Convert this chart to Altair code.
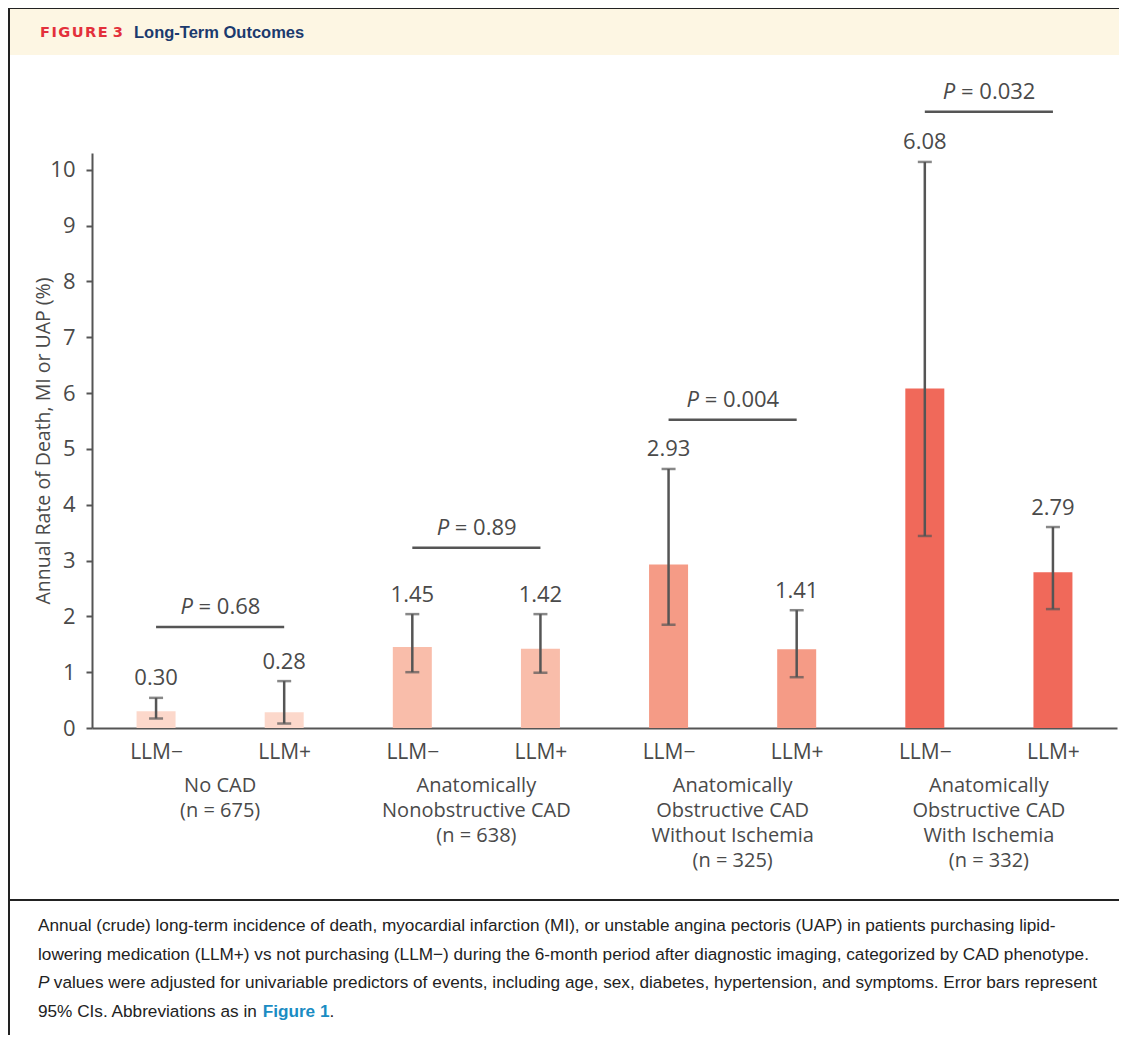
import altair as alt
import pandas as pd

# ---------------- data ----------------
group_labels = [
    "No CAD\n(n = 675)",
    "Anatomically\nNonobstructive CAD\n(n = 638)",
    "Anatomically\nObstructive CAD\nWithout Ischemia\n(n = 325)",
    "Anatomically\nObstructive CAD\nWith Ischemia\n(n = 332)",
]
arms = ["LLM\u2212", "LLM+"]
rates = [0.30, 0.28, 1.45, 1.42, 2.93, 1.41, 6.08, 2.79]
ci_low = [0.17, 0.08, 1.00, 0.99, 1.85, 0.91, 3.44, 2.13]
ci_high = [0.54, 0.84, 2.04, 2.04, 4.64, 2.11, 10.14, 3.60]
p_values = ["0.68", "0.89", "0.004", "0.032"]
p_bracket_y = [1.81, 3.23, 5.52, 11.04]
group_colors = ["#fcd8cb", "#f9bdaa", "#f59b86", "#f0695a"]

caption_lines = [
    "Annual (crude) long-term incidence of death, myocardial infarction (MI), or unstable angina pectoris (UAP) in patients purchasing lipid-",
    "lowering medication (LLM+) vs not purchasing (LLM\u2212) during the 6-month period after diagnostic imaging, categorized by CAD phenotype.",
    "values were adjusted for univariable predictors of events, including age, sex, diabetes, hypertension, and symptoms. Error bars represent",
    "95% CIs. Abbreviations as in ",
]

# ---------------- tables ----------------
bars = pd.DataFrame({
    "idx": list(range(8)),
    "group": [i // 2 for i in range(8)],
    "rate": rates,
    "lo": ci_low,
    "hi": ci_high,
    "label": [f"{r:.2f}" for r in rates],
})

W = 1025
H = 575
PX = W / 8.0  # pixels per x unit


def text_w(s):
    return sum(12.6 if c.isdigit() else 5.9 for c in s)


prow = []
for g, (pv, py) in enumerate(zip(p_values, p_bracket_y)):
    full = 13.2 + 5.7 + 12.6 + 5.7 + text_w(pv)
    mid = 2 * g + 0.5
    split = mid + (-full / 2 + 13.2 + 2.85) / PX
    prow.append({"x1": 2 * g, "x2": 2 * g + 1, "py": py, "split": split,
                 "rest": "= " + pv, "mid": mid, "glabel": group_labels[g]})
pdf = pd.DataFrame(prow)

FONT = "Open Sans"
TXT = "#4a4a4a"
LINE = "#555555"

xscale = alt.Scale(domain=[-0.5, 7.5], nice=False, zero=False, padding=0)
yscale = alt.Scale(domain=[0, 10.3], nice=False, padding=0)

bar_layer = alt.Chart(bars).mark_bar(size=39).encode(
    x=alt.X("idx:Q", scale=xscale, axis=alt.Axis(
        values=list(range(8)),
        labelExpr="datum.value % 2 == 0 ? 'LLM\u2212' : 'LLM+'",
        ticks=False, tickSize=0, grid=False, title=None, labelFlush=False,
        labelFontSize=21, labelFont=FONT, labelColor=TXT, labelPadding=13,
        domainColor=LINE, domainWidth=2)),
    y=alt.Y("rate:Q", scale=yscale, axis=alt.Axis(
        values=list(range(11)), format="d", grid=False,
        title="Annual Rate of Death, MI or UAP (%)",
        titleFont=FONT, titleFontSize=19.5, titleFontWeight="normal", titleColor=TXT,
        titleX=-49, titleBaseline="middle",
        labelFont=FONT, labelFontSize=22, labelColor=TXT, labelPadding=11,
        tickSize=6, tickWidth=2, tickColor=LINE, domainColor=LINE, domainWidth=2)),
    color=alt.Color("group:O", scale=alt.Scale(domain=[0, 1, 2, 3], range=group_colors), legend=None),
)

err_rule = alt.Chart(bars).mark_rule(color=LINE, strokeWidth=2.5).encode(
    x=alt.X("idx:Q", scale=xscale),
    y=alt.Y("lo:Q", scale=yscale),
    y2="hi:Q",
)
cap_lo = alt.Chart(bars).mark_tick(orient="horizontal", size=14, thickness=2.5, color=LINE).encode(
    x=alt.X("idx:Q", scale=xscale),
    y=alt.Y("lo:Q", scale=yscale),
)
cap_hi = alt.Chart(bars).mark_tick(orient="horizontal", size=14, thickness=2.5, color=LINE).encode(
    x=alt.X("idx:Q", scale=xscale),
    y=alt.Y("hi:Q", scale=yscale),
)
val_text = alt.Chart(bars).mark_text(font=FONT, fontSize=22, color=TXT, baseline="alphabetic", dy=-12.5).encode(
    x=alt.X("idx:Q", scale=xscale),
    y=alt.Y("hi:Q", scale=yscale),
    text="label:N",
)

p_rule = alt.Chart(pdf).mark_rule(color=LINE, strokeWidth=2.5).encode(
    x=alt.X("x1:Q", scale=xscale),
    x2="x2:Q",
    y=alt.Y("py:Q", scale=yscale),
)
p_italic = alt.Chart(pdf).mark_text(font=FONT, fontSize=22, fontStyle="italic", color=TXT,
                                    align="right", baseline="alphabetic", dx=-2.85, dy=-13).encode(
    x=alt.X("split:Q", scale=xscale),
    y=alt.Y("py:Q", scale=yscale),
    text=alt.value("P"),
)
p_rest = alt.Chart(pdf).mark_text(font=FONT, fontSize=22, color=TXT,
                                  align="left", baseline="alphabetic", dx=2.85, dy=-13).encode(
    x=alt.X("split:Q", scale=xscale),
    y=alt.Y("py:Q", scale=yscale),
    text="rest:N",
)
group_text = alt.Chart(pdf).mark_text(font=FONT, fontSize=20, color=TXT, align="center",
                                      baseline="top", lineBreak="\n", lineHeight=25).encode(
    x=alt.X("mid:Q", scale=xscale),
    y=alt.value(H + 48),
    text="glabel:N",
)

# ---------------- decorations (frame, header, caption) ----------------
one = pd.DataFrame({"k": [0]})
L, T = -84, -145  # canvas origin relative to plot area
FRAME = "#222222"

header_rect = alt.Chart(one).mark_rect(color="#fdf6e3").encode(
    x=alt.value(L + 2), x2=alt.value(1040), y=alt.value(T + 1), y2=alt.value(T + 47))
frame_top = alt.Chart(one).mark_rule(color=FRAME, strokeWidth=2).encode(
    x=alt.value(L), x2=alt.value(1040), y=alt.value(T))
frame_left = alt.Chart(one).mark_rule(color=FRAME, strokeWidth=2).encode(
    x=alt.value(L + 1), y=alt.value(T), y2=alt.value(900))
frame_sep = alt.Chart(one).mark_rule(color=FRAME, strokeWidth=2).encode(
    x=alt.value(L), x2=alt.value(1040), y=alt.value(747))

fig_no = alt.Chart(one).mark_text(font="DejaVu Sans", fontSize=14.6, fontWeight="bold", color="#e3303b",
                                  align="left", baseline="middle").encode(
    x=alt.value(-52), y=alt.value(-120),
    text=alt.value("F\u200aI\u200aG\u200aU\u200aR\u200aE 3"))
fig_title = alt.Chart(one).mark_text(font="Liberation Sans", fontSize=16.5, fontWeight="bold", color="#1b3a6e",
                                     align="left", baseline="middle").encode(
    x=alt.value(42), y=alt.value(-120), text=alt.value("Long-Term Outcomes"))

CAPF = "Liberation Sans"
CAPS = 17.2
CAPC = "#222222"
cap_y = [773, 801.5, 830, 858.5]
lead_w = 13.061 * CAPS
fig1_w = 3.89 * CAPS
caps = []
caps.append(alt.Chart(one).mark_text(font=CAPF, fontSize=CAPS, color=CAPC, align="left", baseline="middle").encode(
    x=alt.value(-54), y=alt.value(cap_y[0]), text=alt.value(caption_lines[0])))
caps.append(alt.Chart(one).mark_text(font=CAPF, fontSize=CAPS, color=CAPC, align="left", baseline="middle").encode(
    x=alt.value(-54), y=alt.value(cap_y[1]), text=alt.value(caption_lines[1])))
caps.append(alt.Chart(one).mark_text(font=CAPF, fontSize=CAPS, color=CAPC, fontStyle="italic", align="left", baseline="middle").encode(
    x=alt.value(-54), y=alt.value(cap_y[2]), text=alt.value("P")))
caps.append(alt.Chart(one).mark_text(font=CAPF, fontSize=CAPS, color=CAPC, align="left", baseline="middle").encode(
    x=alt.value(-54 + 0.6 * CAPS + 5.5), y=alt.value(cap_y[2]), text=alt.value(caption_lines[2])))
caps.append(alt.Chart(one).mark_text(font=CAPF, fontSize=CAPS, color=CAPC, align="left", baseline="middle").encode(
    x=alt.value(-54), y=alt.value(cap_y[3]), text=alt.value(caption_lines[3])))
caps.append(alt.Chart(one).mark_text(font=CAPF, fontSize=CAPS, color="#1a8cc3", fontWeight="bold", align="left", baseline="middle").encode(
    x=alt.value(-54 + lead_w), y=alt.value(cap_y[3]), text=alt.value("Figure 1")))
caps.append(alt.Chart(one).mark_text(font=CAPF, fontSize=CAPS, color=CAPC, align="left", baseline="middle").encode(
    x=alt.value(-54 + lead_w + fig1_w), y=alt.value(cap_y[3]), text=alt.value(".")))

chart = alt.layer(
    bar_layer, err_rule, cap_lo, cap_hi, val_text, p_rule, p_italic, p_rest, group_text,
    header_rect, frame_top, frame_left, frame_sep, fig_no, fig_title,
    *caps,
).properties(
    width=W, height=H,
    autosize=alt.AutoSizeParams(type="none"),
    padding={"left": 84, "top": 145, "right": 2, "bottom": 307},
    background="white",
).configure_view(stroke=None)

chart.save("out.html", embed_options={"renderer": "svg", "actions": False})
